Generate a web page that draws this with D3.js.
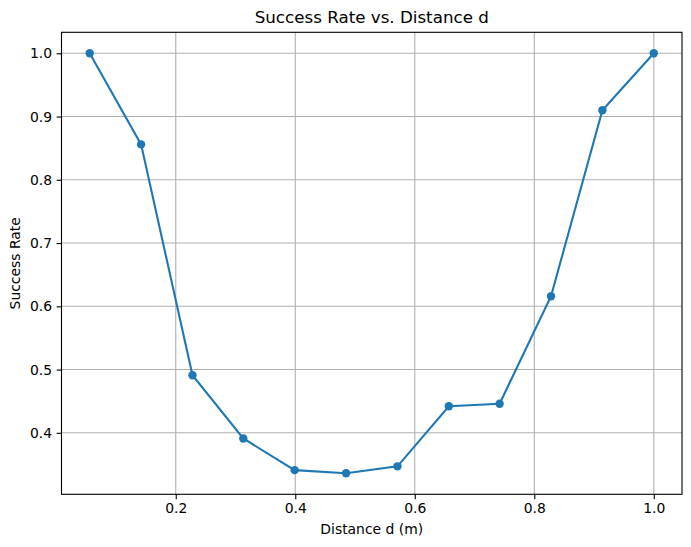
<!DOCTYPE html>
<html>
<head>
<meta charset="utf-8">
<script src="https://cdn.jsdelivr.net/npm/d3@7"></script>
<style>
  body { margin: 0; background: #fff; }
  text { font-family: "DejaVu Sans", sans-serif; fill: #000; }
</style>
</head>
<body>
<svg id="chart" width="691" height="547"></svg>
<script>
var distance = [0.056, 0.142, 0.228, 0.313, 0.399, 0.485, 0.571, 0.657, 0.742, 0.828, 0.914, 1.0];
var successRate = [1.0, 0.856, 0.491, 0.391, 0.341, 0.336, 0.347, 0.442, 0.446, 0.616, 0.910, 1.0];
var xTicks = [0.2, 0.4, 0.6, 0.8, 1.0];
var yTicks = [0.4, 0.5, 0.6, 0.7, 0.8, 0.9, 1.0];

var svg = d3.select('#chart');
var plotL = 61.5, plotR = 682, plotT = 32.3, plotB = 494.3;
var blue = '#1f77b4';

// matplotlib style 5% margins
var xr = d3.extent(distance), yr = d3.extent(successRate);
var xm = (xr[1] - xr[0]) * 0.05, ym = (yr[1] - yr[0]) * 0.05;

var x = d3.scaleLinear().domain([xr[0] - xm, xr[1] + xm]).range([plotL, plotR]);
var y = d3.scaleLinear().domain([yr[0] - ym, yr[1] + ym]).range([plotB, plotT]);

// grid
var grid = svg.append('g').attr('class', 'grid');
grid.selectAll('line.gx').data(xTicks).enter().append('line')
    .attr('x1', function (d) { return x(d); }).attr('x2', function (d) { return x(d); })
    .attr('y1', plotT).attr('y2', plotB)
    .attr('stroke', '#b0b0b0').attr('stroke-width', 1.1);
grid.selectAll('line.gy').data(yTicks).enter().append('line')
    .attr('y1', function (d) { return y(d); }).attr('y2', function (d) { return y(d); })
    .attr('x1', plotL).attr('x2', plotR)
    .attr('stroke', '#b0b0b0').attr('stroke-width', 1.1);

// axes
var xAxis = svg.append('g')
    .attr('transform', 'translate(0,' + plotB + ')')
    .call(d3.axisBottom(x).tickValues(xTicks).tickFormat(d3.format('.1f')).tickSizeInner(4.9).tickSizeOuter(0).tickPadding(4));
var yAxis = svg.append('g')
    .attr('transform', 'translate(' + plotL + ',0)')
    .call(d3.axisLeft(y).tickValues(yTicks).tickFormat(d3.format('.1f')).tickSizeInner(4.9).tickSizeOuter(0).tickPadding(4.5));

[xAxis, yAxis].forEach(function (a) {
  a.select('.domain').remove();
  a.attr('font-size', null).attr('font-family', null);
  a.selectAll('line').attr('stroke', '#000').attr('stroke-width', 1.1);
  a.selectAll('text').style('font-family', '"DejaVu Sans", sans-serif').style('font-size', '13.9px').attr('fill', '#000');
});

// spines
svg.append('rect')
    .attr('x', plotL).attr('y', plotT)
    .attr('width', plotR - plotL).attr('height', plotB - plotT)
    .attr('fill', 'none').attr('stroke', '#000').attr('stroke-width', 1.1);

// line + markers
var line = d3.line()
    .x(function (d, i) { return x(distance[i]); })
    .y(function (d) { return y(d); });

svg.append('path')
    .datum(successRate)
    .attr('d', line)
    .attr('fill', 'none')
    .attr('stroke', blue)
    .attr('stroke-width', 2.1);

svg.selectAll('circle.pt').data(successRate).enter().append('circle')
    .attr('class', 'pt')
    .attr('cx', function (d, i) { return x(distance[i]); })
    .attr('cy', function (d) { return y(d); })
    .attr('r', 4.2)
    .attr('fill', blue);

// labels
svg.append('text')
    .attr('x', (plotL + plotR) / 2).attr('y', 23)
    .attr('text-anchor', 'middle')
    .style('font-size', '16.7px')
    .text('Success Rate vs. Distance d');

svg.append('text')
    .attr('x', (plotL + plotR) / 2).attr('y', 534)
    .attr('text-anchor', 'middle')
    .style('font-size', '13.9px')
    .text('Distance d (m)');

svg.append('text')
    .attr('transform', 'translate(20,' + ((plotT + plotB) / 2) + ') rotate(-90)')
    .attr('text-anchor', 'middle')
    .style('font-size', '13.9px')
    .text('Success Rate');
</script>
</body>
</html>
